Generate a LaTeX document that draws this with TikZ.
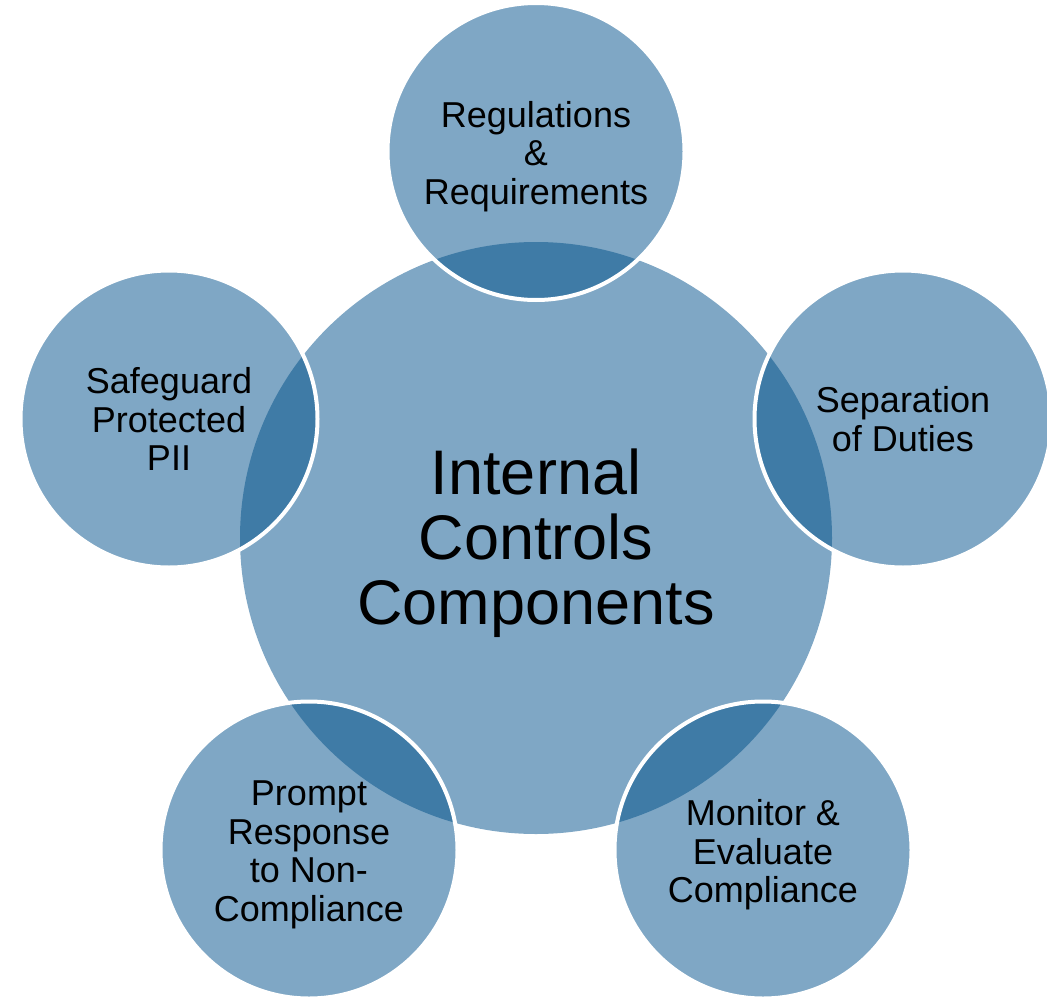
\documentclass[tikz,border=0pt]{standalone}
\usepackage{fontspec}
\setmainfont{Liberation Sans}
\definecolor{lightb}{HTML}{7FA7C5}
\definecolor{darkb}{HTML}{3F7BA6}
\begin{document}
\begin{tikzpicture}[x=1pt,y=-1pt,
  smalltext/.style={align=center, inner sep=0pt, yshift=-5pt, text=black, font=\fontsize{36}{38.5}\selectfont},
  bigtext/.style={align=center, inner sep=0pt, yshift=-5pt, text=black, font=\fontsize{63}{65}\selectfont},
  rim/.style={draw=white, line width=4pt}]
\useasboundingbox (0,0) rectangle (1047,998);
\coordinate (O) at (536,538);
\coordinate (T) at (536,151.5);
\coordinate (R) at (903,419);
\coordinate (BR) at (763,850);
\coordinate (BL) at (309,850);
\coordinate (L) at (169,419);
\fill[lightb] (O) circle[radius=296];
\foreach \c in {T,R,BR,BL,L}{
  \fill[lightb] (\c) circle[radius=148.5];
  \begin{scope}
    \clip (\c) circle[radius=148.5];
    \fill[darkb] (O) circle[radius=296];
  \end{scope}
  \draw[rim] (\c) circle[radius=148.5];
}
\node[bigtext] (tO) at (O) {Internal\\Controls\\Components};
\node[smalltext] (tT) at (T) {Regulations\\\&\\Requirements};
\node[smalltext, yshift=5pt] (tR) at (R) {Separation\\of Duties};
\node[smalltext] (tBR) at (BR) {Monitor \&\\Evaluate\\Compliance};
\node[smalltext] (tBL) at (BL) {Prompt\\Response\\to Non-\\Compliance};
\node[smalltext, yshift=5pt] (tL) at (L) {Safeguard\\Protected\\PII};
\end{tikzpicture}
\end{document}
